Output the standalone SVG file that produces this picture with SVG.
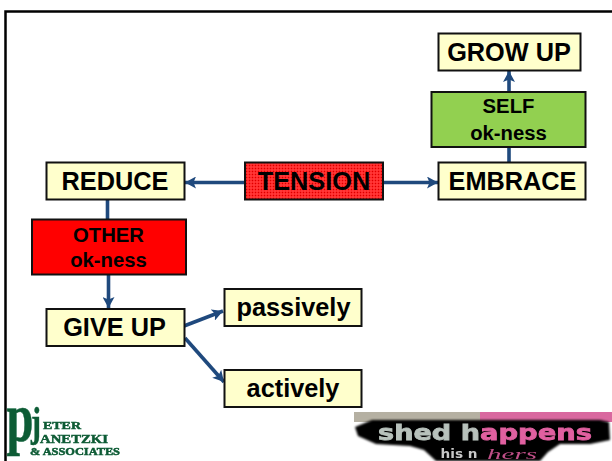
<svg xmlns="http://www.w3.org/2000/svg" width="612" height="461" viewBox="0 0 612 461">
<defs>
<pattern id="dots" width="3" height="3" patternUnits="userSpaceOnUse"><rect width="3" height="3" fill="#ff2626"/><rect width="1" height="1" fill="#d80000"/><rect x="1.5" y="1.5" width="1" height="1" fill="#ff6a6a"/></pattern>
<marker id="arrow" markerUnits="userSpaceOnUse" markerWidth="12" markerHeight="12" refX="11" refY="6" orient="auto"><path d="M0 0L11 6L0 12L2.5 6Z" fill="#1f497d"/></marker>
<filter id="soft" x="-5%" y="-10%" width="110%" height="120%"><feGaussianBlur stdDeviation="0.6"/></filter>
<filter id="rough" x="-5%" y="-10%" width="110%" height="120%"><feGaussianBlur stdDeviation="1"/></filter>
</defs>
<style>
text{font-family:"Liberation Sans",Arial,sans-serif;font-weight:bold;fill:#000;text-anchor:middle}
.box{stroke:#111;stroke-width:2}
.y{fill:#ffffcc}
.big{font-size:25.300px}
.mid{font-size:20.300px}
.con{fill:none;stroke:#1f497d;stroke-width:3.600}
.lg{font-family:"Liberation Serif",serif;fill:#0b5b35;stroke:#0b5b35;stroke-width:0.500}
.sh{font-family:"DejaVu Sans",sans-serif;stroke-width:0.800}
</style>
<path d="M5.500 461V11.500H612" fill="none" stroke="#000" stroke-width="2.500"/>
<g id="connectors">
<path class="con" d="M509 162V147"/>
<path class="con" d="M509 92V71" marker-end="url(#arrow)"/>
<path class="con" d="M245 182.500H185" marker-end="url(#arrow)"/>
<path class="con" d="M383 182.500H438" marker-end="url(#arrow)"/>
<path class="con" d="M107.500 200V219"/>
<path class="con" d="M108.500 275V308" marker-end="url(#arrow)"/>
<path class="con" d="M184 326L223 311" marker-end="url(#arrow)"/>
<path class="con" d="M185 338L224 382" marker-end="url(#arrow)"/>
</g>
<g id="grow-up"><rect class="box y" x="438.500" y="33.500" width="142" height="37"/><text class="big" x="509" y="60.500">GROW UP</text></g>
<g id="self-okness"><rect class="box" fill="#92d050" x="431.500" y="92" width="154" height="55"/><text class="mid" x="508.500" y="113">SELF</text><text class="mid" x="508.500" y="139.500">ok-ness</text></g>
<g id="embrace"><rect class="box y" x="438.500" y="162.500" width="147" height="37"/><text class="big" x="512.500" y="189.500">EMBRACE</text></g>
<g id="tension"><rect class="box" fill="url(#dots)" x="245" y="162.500" width="138" height="37"/><text class="big" x="314" y="189.500">TENSION</text></g>
<g id="reduce"><rect class="box y" x="46.500" y="162.500" width="138" height="37"/><text class="big" x="115" y="189.500">REDUCE</text></g>
<g id="other-okness"><rect class="box" fill="#ff0000" x="32" y="219.500" width="154" height="55"/><text class="mid" x="108.500" y="241.500">OTHER</text><text class="mid" x="108.500" y="266.500">ok-ness</text></g>
<g id="give-up"><rect class="box y" x="46.500" y="309" width="138" height="37"/><text class="big" x="114.500" y="336">GIVE UP</text></g>
<g id="passively"><rect class="box y" x="224.500" y="289" width="137" height="37"/><text class="big" x="293.500" y="316">passively</text></g>
<g id="actively"><rect class="box y" x="224.500" y="370" width="137" height="37"/><text class="big" x="293" y="397">actively</text></g>
<g id="logo-left" filter="url(#soft)">
<text class="lg" x="20" y="441" style="font-size:70px" textLength="27" lengthAdjust="spacingAndGlyphs">p</text>
<text class="lg" x="36" y="436" style="font-size:42px" textLength="10" lengthAdjust="spacingAndGlyphs">j</text>
<text class="lg" x="62" y="429" style="font-size:11px" textLength="38" lengthAdjust="spacingAndGlyphs">ETER</text>
<text class="lg" x="74" y="443" style="font-size:12.500px" textLength="68" lengthAdjust="spacingAndGlyphs">ANETZKI</text>
<text class="lg" x="75" y="455" style="font-size:10px" textLength="90" lengthAdjust="spacingAndGlyphs">&amp; ASSOCIATES</text>
</g>
<g id="logo-right">
<rect x="354" y="412" width="126" height="10" fill="#b5b0a2" filter="url(#soft)"/>
<rect x="480" y="412" width="132" height="10" fill="#d9679f" filter="url(#soft)"/>
<path d="M355 427L372 420H600L609 422L610 440L590 444H560L548 452L540 461H436L424 450L410 446L376 444L358 436Z" fill="#050505" filter="url(#rough)"/>
<g filter="url(#soft)">
<text class="sh" x="429" y="440" style="font-size:22px;fill:#b8c2bc;stroke:#b8c2bc" textLength="102" lengthAdjust="spacingAndGlyphs">shed h</text>
<text class="sh" x="536" y="440" style="font-size:22px;fill:#e060a0;stroke:#e060a0" textLength="112" lengthAdjust="spacingAndGlyphs">appens</text>
<text class="sh" x="459" y="458" style="font-size:11.500px;fill:#c8c8c8;stroke-width:0" textLength="37" lengthAdjust="spacingAndGlyphs">his n</text>
<text x="512" y="458.500" style="font-family:'Liberation Serif',serif;font-style:italic;font-weight:normal;font-size:15px;fill:#c04f88" textLength="50" lengthAdjust="spacingAndGlyphs">hers</text>
</g>
</g>
</svg>
